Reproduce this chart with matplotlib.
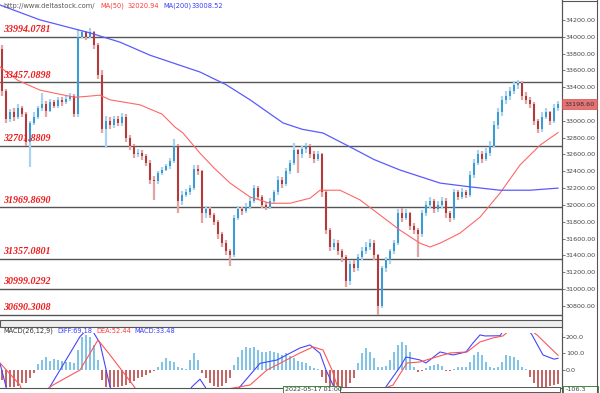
import matplotlib
matplotlib.use("Agg")
import matplotlib.pyplot as plt
from matplotlib.patches import Rectangle
from matplotlib.lines import Line2D

# ---------------- data ----------------
first_open = 33850
closes = [33350, 33020, 33100, 33050, 33150, 33080, 32750, 32980, 33050, 33150,
          33200, 33120, 33220, 33180, 33250, 33220, 33260, 33300, 33080, 34000,
          34050, 34000, 34060, 33900, 33550, 32900, 33000, 32950, 33020, 32980,
          33050, 32800, 32700, 32600, 32620, 32580, 32500, 32300, 32280, 32380,
          32420, 32460, 32520, 32700, 32050, 32120, 32150, 32200, 32430, 32400,
          31900, 31950, 31880, 31800, 31650, 31550, 31450, 31400, 31850, 31950,
          31930, 31980, 32050, 32200, 32100, 32000, 31980, 32050, 32150, 32300,
          32250, 32400, 32500, 32650, 32600, 32660, 32700, 32600, 32550, 32600,
          32150, 31700, 31500, 31550, 31450, 31380, 31100, 31300, 31250, 31380,
          31450, 31500, 31550, 31400, 30800, 31250, 31350, 31450, 31550, 31900,
          31850, 31900, 31750, 31700, 31650, 31900, 32000, 32050, 31950, 32000,
          32050, 31900, 31850, 32150, 32100, 32150, 32120, 32350, 32500, 32600,
          32550, 32620, 32700, 32950, 33100, 33250, 33300, 33350, 33420, 33450,
          33300, 33250, 33200, 33000, 32900, 33050, 33100, 33000, 33150, 33199]
highs = [33900, 33380, 33140, 33150, 33200, 33180, 33100, 33000, 33100, 33180,
         33330, 33230, 33260, 33250, 33280, 33280, 33300, 33330, 33320, 34090,
         34080, 34070, 34100, 34070, 33920, 33600, 33060, 33050, 33060, 33060,
         33090, 33080, 32830, 32720, 32660, 32650, 32600, 32530, 32340, 32400,
         32450, 32490, 32560, 32780, 32720, 32160, 32190, 32240, 32480, 32480,
         32420, 31990, 31980, 31900, 31820, 31680, 31580, 31480, 31880, 31990,
         31980, 32020, 32100, 32240, 32220, 32120, 32040, 32080, 32180, 32340,
         32330, 32440, 32540, 32740, 32670, 32700, 32740, 32720, 32640, 32640,
         32620, 32180, 31720, 31600, 31580, 31480, 31400, 31330, 31340, 31420,
         31500, 31560, 31600, 31580, 31420, 31280, 31380, 31480, 31580, 31950,
         31960, 31950, 31920, 31780, 31720, 31940, 32050, 32090, 32070, 32050,
         32100, 32080, 31930, 32190, 32180, 32200, 32180, 32400, 32550, 32650,
         32640, 32680, 32760, 33000, 33150, 33300, 33350, 33400, 33470, 33490,
         33470, 33340, 33280, 33220, 33020, 33100, 33150, 33120, 33200, 33230]
lows = [33300, 32980, 32990, 33000, 33020, 33040, 32700, 32450, 32950, 33020,
        33120, 33050, 33100, 33150, 33150, 33180, 33200, 33240, 33040, 33050,
        33980, 33960, 33980, 33850, 33500, 32850, 32680, 32900, 32920, 32940,
        32940, 32750, 32650, 32560, 32570, 32540, 32460, 32250, 32060, 32250,
        32350, 32400, 32430, 32500, 31900, 32000, 32100, 32120, 32180, 32360,
        31780, 31850, 31840, 31760, 31600, 31500, 31400, 31280, 31380, 31820,
        31880, 31900, 31950, 32020, 32060, 31960, 31940, 31950, 32020, 32120,
        32200, 32220, 32370, 32480, 32380, 32560, 32620, 32560, 32500, 32520,
        32100, 31650, 31450, 31470, 31400, 31320, 31020, 31050, 31200, 31220,
        31350, 31420, 31470, 31350, 30690, 30780, 31200, 31300, 31420, 31520,
        31800, 31820, 31700, 31650, 31380, 31620, 31870, 31960, 31900, 31920,
        31960, 31850, 31800, 31820, 32060, 32070, 32080, 32100, 32320, 32470,
        32500, 32520, 32580, 32680, 32900, 33060, 33200, 33250, 33320, 33380,
        33250, 33200, 33150, 32950, 32850, 32870, 33020, 32950, 32970, 33120]

ma50_idx = [-0.5, 4, 9.5, 14, 18.25, 21, 24.5, 27, 34.5, 40, 43.25, 45.25, 49.5, 53,
            57, 62, 67, 72, 77, 79.5, 84.5, 89.5, 94.5, 99.5, 104.5, 107, 109.5, 114.5,
            119.5, 124.5, 129.5, 134.5, 139]
ma50_val = [33640, 33480, 33365, 33320, 33280, 33290, 33305, 33250, 33190, 33080, 32925,
            32855, 32615, 32440, 32260, 32095, 32020, 32020, 32080, 32175, 32175, 32060,
            31880, 31700, 31545, 31500, 31545, 31665, 31855, 32140, 32475, 32710, 32860]
ma200_idx = [-0.5, 9.5, 22, 29.5, 37, 49.5, 56, 62, 70.25, 75, 80.25, 87, 93, 99.5,
             109.5, 117, 124.5, 132, 139]
ma200_val = [34377, 34200, 34045, 33935, 33780, 33580, 33430, 33250, 32975, 32900,
             32855, 32690, 32540, 32415, 32260, 32215, 32175, 32175, 32200]

levels = [33994.0781, 33457.0898, 32701.8809, 31969.8690, 31357.0801, 30999.0292, 30690.3008]
level_labels = ["33994.0781", "33457.0898", "32701.8809", "31969.8690",
                "31357.0801", "30999.0292", "30690.3008"]

price_ticks = list(range(30800, 34201, 200))
last_price = 33198.60

macd_hist = [-60, -100, -100, -100, -95, -80, -75, -50, -20, 35,
             60, 78, 55, 65, 60, 55, 50, 45, 40, 120,
             200, 210, 200, 150, 60, -60, -100, -100, -100, -100,
             -95, -90, -80, -65, -50, -40, -30, -15, -5, 20,
             50, 72, 55, 45, 15, 10, 8, 60, 100, 60,
             -20, -50, -80, -95, -100, -95, -80, -50, 30, 80,
             120, 140, 130, 135, 120, 110, 105, 115, 110, 100,
             90, 100, 85, 70, 55, 45, 40, 25, 10, 5,
             -40, -80, -100, -100, -100, -100, -100, -80, -50, 40,
             100, 130, 110, 70, 20, 15, 25, 60, 110, 150,
             165, 150, 110, 20, -10, -5, 10, 25, 30, 35,
             25, -5, -8, 5, 15, 20, 20, 50, 90, 110,
             90, 50, 15, 10, 20, 50, 90, 85, 80, 60,
             20, 5, -40, -80, -100, -100, -100, -95, -90, -85]
diff_idx = [-0.5, 1, 2, 10, 12, 16, 19.5, 22, 24.5, 27, 29, 45, 47.5, 49.5, 51, 53, 57,
            59.5, 64.5, 68.75, 74.5, 77, 79.5, 81, 82.75, 84, 95, 96, 99.5, 101, 104.5,
            106, 109.5, 112.75, 116, 117.75, 119.5, 120.75, 124.5, 126, 131, 132.5,
            135.25, 138, 139]
diff_val = [40, -100, -200, -200, -100, 60, 200, 260, 160, -100, -200, -200, -100, -55,
            -110, -200, -200, -100, 40, 60, 132, 150, 100, 0, -90, -200, -200, -100, 18,
            78, 60, 42, 108, 90, 108, 162, 210, 204, 205, 260, 260, 210, 90, 65, 70]
dea_idx = [-0.5, 4.5, 6, 12.75, 19.5, 24, 27, 29.5, 32.75, 36, 62, 66.25, 74.5, 77.75,
           80.25, 82.5, 83.75, 86, 97.75, 101.25, 104.5, 107.75, 112, 116.25, 119.5,
           122.75, 125.25, 127, 132, 133.75, 139]
dea_val = [42, -90, -200, -90, 0, 180, 90, 12, -90, -200, -90, 0, 102, 138, 120, 0, -90,
           -200, -90, 42, 48, 72, 102, 108, 168, 192, 204, 240, 240, 210, 88]
macd_ticks = [200, 100, 0]

# ---------------- layout helpers ----------------
W, H = 600, 393
fig = plt.figure(figsize=(6, 3.93), dpi=100)
fig.patch.set_facecolor("white")


def fx(px):
    return px / W


def fy(py):
    return 1 - py / H


PANEL_R = 562
TICK_FS = 4.6
# main price panel: y 0..320 px
ax = fig.add_axes([0, fy(320), fx(PANEL_R), 320 / H])
ax.set_facecolor("white")
ylo = 34000 - (320 - 36.7) / 0.08412
yhi = 34000 + 36.7 / 0.08412
ax.set_ylim(ylo, yhi)
ax.set_xlim(-0.5, 140.0)

UP_BODY, UP_WICK = "#3d9ad3", "#a9d3ee"
DN_BODY, DN_WICK = "#b23a3a", "#e3a3a3"

opens = [first_open] + closes[:-1]
for i, (o, c, h, l) in enumerate(zip(opens, closes, highs, lows)):
    up = c >= o
    ax.vlines(i, l, h, color=UP_WICK if up else DN_WICK, lw=1.6, zorder=2)
    lo_b, hi_b = min(o, c), max(o, c)
    if hi_b - lo_b < 8:
        hi_b = lo_b + 8
    ax.bar(i, hi_b - lo_b, bottom=lo_b, width=0.45,
           color=UP_BODY if up else DN_BODY, linewidth=0, zorder=3)

ax.plot(ma50_idx, ma50_val, color="#ff6666", lw=0.8, zorder=4)
ax.plot(ma200_idx, ma200_val, color="#5a5aff", lw=0.9, zorder=4)

for lv, lab in zip(levels, level_labels):
    ax.axhline(lv, color="#555555", lw=1.0, zorder=1)
    ax.annotate(lab, xy=(0, lv), xycoords=("axes fraction", "data"),
                xytext=(2, 2), textcoords="offset points", ha="left", va="bottom",
                color="#ee1c1c", fontsize=7.2, fontweight="bold", fontstyle="italic",
                family="Liberation Serif", zorder=5)

ax.yaxis.tick_right()
ax.set_yticks(price_ticks)
ax.set_yticklabels([f"{t:.2f}" for t in price_ticks])
ax.tick_params(axis="y", labelsize=TICK_FS, colors="#444444", length=2, width=0.5, pad=0.8)
ax.set_xticks([])
for s in ["top", "left", "bottom"]:
    ax.spines[s].set_visible(False)
ax.spines["right"].set_color("#555555")
ax.spines["right"].set_linewidth(0.8)

# last price tag
tag_y = 36.7 + (34000 - last_price) * 0.08412
fig.patches.append(Rectangle((fx(PANEL_R), fy(tag_y + 5)), fx(35), 10 / H,
                             transform=fig.transFigure, facecolor="#e57373",
                             edgecolor="#d05050", lw=0.5, zorder=5))
fig.text(fx(PANEL_R + 2.5), fy(tag_y), f"{last_price:.2f}", fontsize=TICK_FS,
         color="#333333", va="center", ha="left", zorder=6)

# top texts
fig.text(fx(3), fy(6), "http://www.deltastock.com/", fontsize=4.8, color="#555555", va="center")
fig.text(fx(100), fy(6), "MA(50)", fontsize=4.8, color="#ff3b3b", va="center")
fig.text(fx(128), fy(6), "32020.94", fontsize=4.8, color="#ff3b3b", va="center")
fig.text(fx(163), fy(6), "MA(200)", fontsize=4.8, color="#3b3bff", va="center")
fig.text(fx(192), fy(6), "33008.52", fontsize=4.8, color="#3b3bff", va="center")

# scrollbar strip
fig.patches.append(Rectangle((0, fy(327)), fx(PANEL_R), 7 / H, transform=fig.transFigure,
                             facecolor="#eeeeee", edgecolor="#555555", lw=0.8, zorder=1))

# MACD panel: plot area y 333..388 px
axm = fig.add_axes([0, fy(388), fx(PANEL_R), 55 / H])
axm.set_facecolor("white")
axm.set_xlim(-0.5, 140.0)
axm.set_ylim((370 - 388) / 0.167, (370 - 333) / 0.167)
hcols = ["#82c4e6" if v >= 0 else "#c46666" for v in macd_hist]
axm.bar(range(len(macd_hist)), macd_hist, width=0.32, color=hcols, linewidth=0, zorder=2)
axm.plot(diff_idx, diff_val, color="#4545ff", lw=0.8, zorder=3)
axm.plot(dea_idx, dea_val, color="#ff5555", lw=0.8, zorder=3)
axm.yaxis.tick_right()
axm.set_yticks(macd_ticks)
axm.set_yticklabels([f"{t:.1f}" for t in macd_ticks])
axm.tick_params(axis="y", labelsize=TICK_FS, colors="#444444", length=2, width=0.5, pad=0.8)
axm.set_xticks([])
for s in ["top", "left"]:
    axm.spines[s].set_visible(False)
axm.spines["bottom"].set_color("#555555")
axm.spines["bottom"].set_linewidth(0.8)
axm.spines["right"].set_color("#555555")
axm.spines["right"].set_linewidth(0.8)

fig.text(fx(3), fy(331), "MACD(26,12,9)", fontsize=4.8, color="#333333", va="center")
fig.text(fx(57), fy(331), "DIFF:69.18", fontsize=4.8, color="#3b3bff", va="center")
fig.text(fx(96), fy(331), "DEA:52.44", fontsize=4.8, color="#ff3b3b", va="center")
fig.text(fx(134), fy(331), "MACD:33.48", fontsize=4.8, color="#3b3bff", va="center")

# right panel box lines
fig.add_artist(Line2D([fx(PANEL_R), fx(PANEL_R)], [fy(0), fy(393)], transform=fig.transFigure,
                      color="#555555", lw=0.8))
fig.add_artist(Line2D([fx(597), fx(597)], [fy(0), fy(393)], transform=fig.transFigure,
                      color="#555555", lw=0.8))
fig.add_artist(Line2D([fx(PANEL_R), fx(597)], [fy(1), fy(1)], transform=fig.transFigure,
                      color="#555555", lw=0.8))

# bottom date strip
fig.patches.append(Rectangle((fx(340), fy(392)), fx(220), 5 / H, transform=fig.transFigure,
                             facecolor="white", edgecolor="#555555", lw=0.7))
fig.patches.append(Rectangle((fx(283), fy(393)), fx(57), 7 / H, transform=fig.transFigure,
                             facecolor="white", edgecolor="#3a8a3a", lw=0.7))
fig.text(fx(285), fy(389.5), "2022-05-17 01:00", fontsize=4.6, color="#333333", va="center")
fig.patches.append(Rectangle((fx(563), fy(393)), fx(35), 7 / H, transform=fig.transFigure,
                             facecolor="white", edgecolor="#3a8a3a", lw=0.7))
fig.text(fx(566), fy(389.5), "-106.3", fontsize=4.6, color="#444444", va="center")

fig.savefig("out.png", dpi=100, facecolor="white")
